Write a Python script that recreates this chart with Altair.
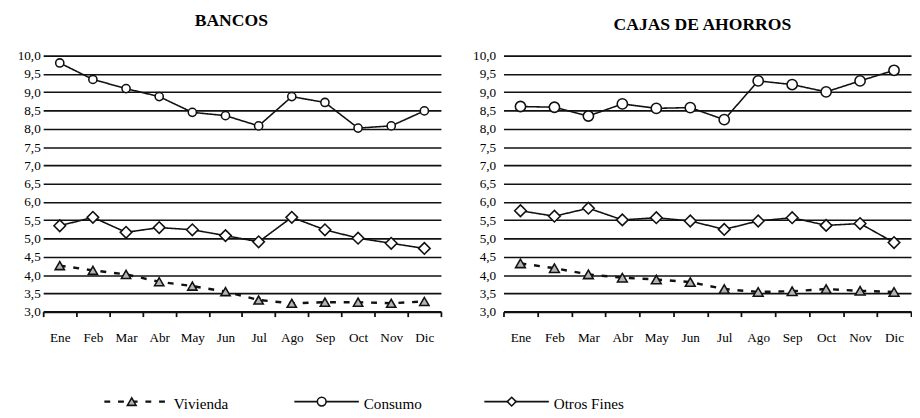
import altair as alt
import pandas as pd

meses = ["Ene", "Feb", "Mar", "Abr", "May", "Jun", "Jul", "Ago", "Sep", "Oct", "Nov", "Dic"]
series = ["Vivienda", "Consumo", "Otros Fines"]

bancos_vivienda = [4.26, 4.13, 4.02, 3.82, 3.70, 3.55, 3.32, 3.23, 3.26, 3.26, 3.23, 3.28]
bancos_consumo = [9.80, 9.35, 9.10, 8.88, 8.45, 8.36, 8.08, 8.88, 8.72, 8.02, 8.08, 8.49]
bancos_otros = [5.35, 5.58, 5.17, 5.30, 5.24, 5.08, 4.91, 5.58, 5.24, 5.01, 4.87, 4.73]

cajas_vivienda = [4.32, 4.19, 4.02, 3.93, 3.88, 3.81, 3.62, 3.54, 3.56, 3.62, 3.57, 3.54]
cajas_consumo = [8.61, 8.59, 8.35, 8.68, 8.56, 8.58, 8.25, 9.31, 9.21, 9.01, 9.31, 9.60]
cajas_otros = [5.76, 5.61, 5.83, 5.51, 5.57, 5.48, 5.25, 5.48, 5.57, 5.36, 5.41, 4.89]

y_ticks = [3.0, 3.5, 4.0, 4.5, 5.0, 5.5, 6.0, 6.5, 7.0, 7.5, 8.0, 8.5, 9.0, 9.5, 10.0]

FONT = "'Liberation Serif', 'Times New Roman', Tinos, 'DejaVu Serif', serif"
INK = "#111111"

STYLE = {
    "Vivienda": dict(shape="triangle-up", fill="#b4b4b4", dash=[6, 8], lw=2.5),
    "Consumo": dict(shape="circle", fill="white", dash=[1, 0], lw=1.6),
    "Otros Fines": dict(shape="diamond", fill="white", dash=[1, 0], lw=1.6),
}


def make_df(viv, con, otr):
    rows = []
    for s, vals in zip(series, [viv, con, otr]):
        for m, v in zip(meses, vals):
            rows.append({"mes": m, "serie": s, "valor": v})
    return pd.DataFrame(rows)


def panel(df, title, width, title_offset, title_dx, ylab_pad, sizes):
    x = alt.X(
        "mes:N", sort=meses, title=None,
        scale=alt.Scale(type="band", paddingInner=0, paddingOuter=0),
        axis=alt.Axis(tickBand="extent", labelAngle=0, labelFont=FONT, labelFontSize=13.5,
                      labelColor="#000", labelPadding=14, tickSize=5, tickColor=INK,
                      tickWidth=1.8, domainColor=INK, domainWidth=2.2, grid=False),
    )
    y = alt.Y(
        "valor:Q", title=None,
        scale=alt.Scale(domain=[3, 10], nice=False, zero=False),
        axis=alt.Axis(values=y_ticks,
                      labelExpr="replace(format(datum.value, '.1f'), '.', ',')",
                      domain=False, ticks=False, grid=True, gridColor=INK, gridWidth=1.6,
                      labelPadding=ylab_pad, labelFont=FONT, labelFontSize=13.5,
                      labelColor="#000"),
    )
    base = alt.Chart(df)
    layers = []
    for s in series:
        st = STYLE[s]
        layers.append(
            base.transform_filter(alt.datum.serie == s)
            .mark_line(color=INK, strokeWidth=st["lw"], strokeDash=st["dash"])
            .encode(x=x, y=y)
        )
    for s in series:
        st = STYLE[s]
        layers.append(
            base.transform_filter(alt.datum.serie == s)
            .mark_point(shape=st["shape"], filled=True, fill=st["fill"], stroke=INK,
                        strokeWidth=1.6, size=sizes[s], opacity=1)
            .encode(x=x, y=y)
        )
    return alt.layer(*layers).properties(
        width=width, height=262,
        title=alt.Title(title, font=FONT, fontSize=18, fontWeight="bold", color="#000",
                        offset=title_offset, dx=title_dx, anchor="middle"),
    )


left = panel(make_df(bancos_vivienda, bancos_consumo, bancos_otros), "BANCOS", 407, 19, -11, 3,
             {"Vivienda": 90, "Consumo": 70, "Otros Fines": 140})
right = panel(make_df(cajas_vivienda, cajas_consumo, cajas_otros), "CAJAS DE AHORROS", 417, 15, -5, 8,
              {"Vivienda": 100, "Consumo": 110, "Otros Fines": 140})

# legend row
leg_df = pd.DataFrame({"serie": series})
lx = alt.X("serie:N", sort=series, scale=alt.Scale(type="point", padding=0.466), axis=None)
lbase = alt.Chart(leg_df)
leg_layers = []
for s in series:
    st = STYLE[s]
    leg_layers.append(
        lbase.transform_filter(alt.datum.serie == s)
        .mark_rule(color=INK, strokeWidth=st["lw"], strokeDash=st["dash"], xOffset=-28, x2Offset=38)
        .encode(x=lx, x2="serie:N", y=alt.value(10))
    )
for s in series:
    st = STYLE[s]
    leg_layers.append(
        lbase.transform_filter(alt.datum.serie == s)
        .mark_point(shape=st["shape"], filled=True, fill=st["fill"], stroke=INK,
                    strokeWidth=1.6, size=80, opacity=1)
        .encode(x=lx, y=alt.value(10))
    )
leg_layers.append(
    lbase.mark_text(align="left", baseline="middle", dx=43, dy=3, font=FONT, fontSize=15.5, color="#000")
    .encode(x=lx, y=alt.value(10), text="serie:N")
)
legend = alt.layer(*leg_layers).properties(width=570, height=20)

chart = (
    alt.vconcat(alt.hconcat(left, right, spacing=31), legend, spacing=49)
    .configure_view(stroke=None)
    .properties(padding={"left": 9, "top": 0, "right": 0, "bottom": 0})
)

chart.save("out.html", embed_options={"renderer": "svg", "actions": False})
